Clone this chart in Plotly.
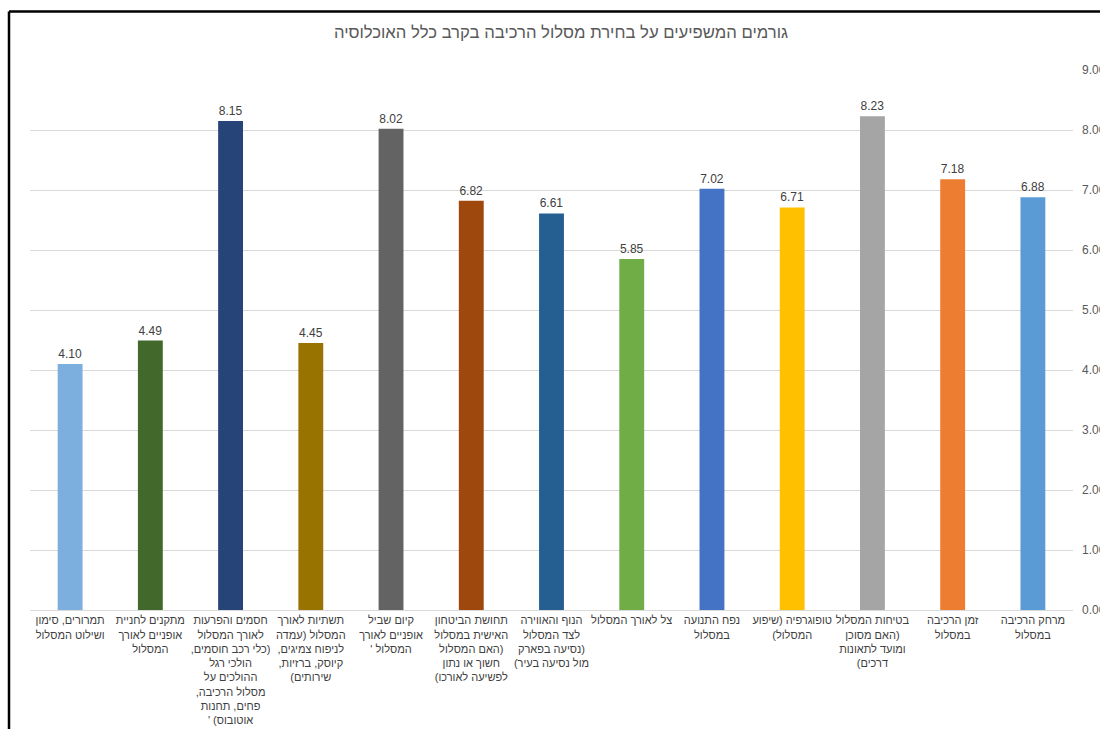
import plotly.graph_objects as go

title = "גורמים המשפיעים על בחירת מסלול הרכיבה בקרב כלל האוכלוסיה"

category_lines = [
    ["מרחק הרכיבה", "במסלול"],
    ["זמן הרכיבה", "במסלול"],
    ["בטיחות המסלול", "(האם מסוכן", "ומועד לתאונות", "דרכים)"],
    ["טופוגרפיה (שיפוע", "המסלול)"],
    ["נפח התנועה", "במסלול"],
    ["צל לאורך המסלול"],
    ["הנוף והאווירה", "לצד המסלול", "(נסיעה בפארק", "מול נסיעה בעיר)"],
    ["תחושת הביטחון", "האישית במסלול", "(האם המסלול", "חשוך או נתון", "לפשיעה לאורכו)"],
    ["קיום שביל", "אופניים לאורך", "המסלול '"],
    ["תשתיות לאורך", "המסלול (עמדה", "לניפוח צמיגים,", "קיוסק, ברזיות,", "שירותים)"],
    ["חסמים והפרעות", "לאורך המסלול", "(כלי רכב חוסמים,", "הולכי רגל", "ההולכים על",
     "מסלול הרכיבה,", "פחים, תחנות", "אוטובוס) '"],
    ["מתקנים לחניית", "אופניים לאורך", "המסלול"],
    ["תמרורים, סימון", "ושילוט המסלול"],
]

values = [6.88, 7.18, 8.23, 6.71, 7.02, 5.85, 6.61, 6.82, 8.02, 4.45, 8.15, 4.49, 4.10]

colors = [
    "#5B9BD5", "#ED7D31", "#A5A5A5", "#FFC000", "#4472C4", "#70AD47",
    "#255E91", "#9E480E", "#636363", "#997300", "#264478", "#43682B", "#7CAFDD",
]

y_ticks = [0, 1, 2, 3, 4, 5, 6, 7, 8, 9]

# each label line is laid out right-to-left (as in the source)
RLM = "\u200f"
categories = ["<br>".join(RLM + ln + RLM for ln in lines) for lines in category_lines]

FONT = "Liberation Sans, Arial, sans-serif"

fig = go.Figure(
    go.Bar(
        x=categories,
        y=values,
        marker=dict(color=colors, line=dict(width=0)),
        texttemplate="%{y:.2f}",
        textposition="outside",
        textfont=dict(family=FONT, size=12, color="#404040"),
        cliponaxis=False,
        hoverinfo="skip",
    )
)

fig.update_layout(
    width=1100,
    height=729,
    paper_bgcolor="white",
    plot_bgcolor="white",
    margin=dict(l=30, r=27, t=70, b=119),
    bargap=0.69,
    showlegend=False,
    font=dict(family=FONT, size=12, color="#404040"),
    title=dict(
        text=title,
        x=0.51,
        xanchor="center",
        y=1 - 32 / 729,
        yanchor="middle",
        font=dict(family=FONT, size=16.7, color="#595959"),
    ),
    shapes=[
        dict(type="line", xref="paper", yref="paper",
             x0=-21 / 1043, x1=1.1, y0=1 + 58.5 / 540, y1=1 + 58.5 / 540,
             line=dict(color="black", width=2.5)),
        dict(type="line", xref="paper", yref="paper",
             x0=-21 / 1043, x1=-21 / 1043, y0=1 + 58.5 / 540, y1=-0.3,
             line=dict(color="black", width=2.5)),
    ],
)

fig.update_xaxes(
    autorange="reversed",
    automargin=False,
    showgrid=False,
    showline=True,
    linecolor="#D9D9D9",
    linewidth=1,
    ticks="",
    tickangle=0,
    tickfont=dict(family=FONT, size=11, color="#404040"),
)

fig.update_yaxes(
    side="right",
    automargin=False,
    range=[0, 9],
    tickvals=y_ticks,
    tickformat=".2f",
    showgrid=True,
    gridcolor="#D9D9D9",
    gridwidth=1,
    zeroline=False,
    showline=False,
    ticks="",
    ticklabelstandoff=8,
    tickfont=dict(family=FONT, size=12, color="#595959"),
)

fig.write_html("out.html")
